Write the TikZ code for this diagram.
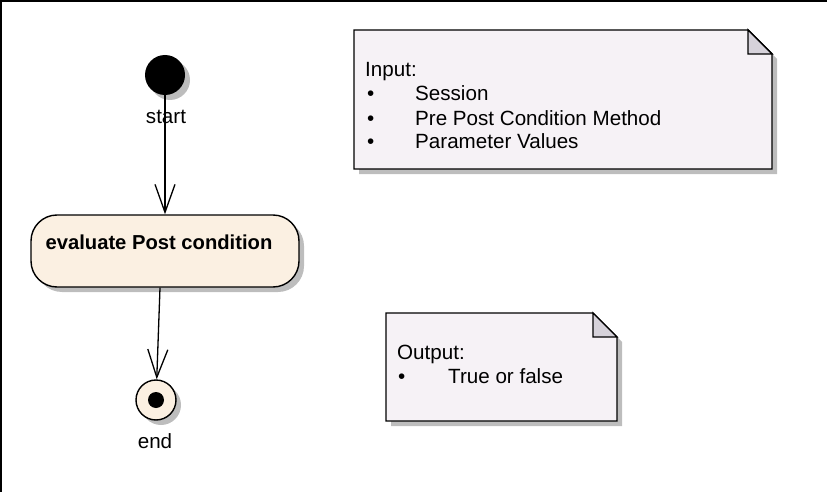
\documentclass[tikz,border=0pt]{standalone}
\usepackage{fontspec}
\setmainfont{Liberation Sans}
\usetikzlibrary{arrows.meta,shadows,positioning}

\definecolor{actfill}{HTML}{FBF0E2}
\definecolor{notefill}{HTML}{F6F2F6}
\definecolor{foldfill}{HTML}{D6D2DA}
\definecolor{shadowgray}{HTML}{BDBDBD}

\tikzset{
  umlshadow/.style={drop shadow={shadow xshift=5pt,shadow yshift=-5pt,fill=shadowgray,opacity=1}},
  startdot/.style={circle,fill=black,minimum size=40pt,inner sep=0pt,umlshadow},
  finaldot/.style={circle,draw=black,line width=1.4pt,fill=actfill,minimum size=40pt,inner sep=0pt,umlshadow},
  innerdot/.style={circle,fill=black,minimum size=16pt,inner sep=0pt},
  actionbox/.style={rectangle,rounded corners=26pt,draw=black,line width=1.4pt,fill=actfill,
    minimum width=268pt,minimum height=72pt,inner sep=0pt,umlshadow},
  flow/.style={line width=1.3pt,-{Straight Barb[length=28pt,width=20pt,line width=1.3pt]}},
  notebody/.style={fill=notefill,draw=black,line width=1.4pt,umlshadow},
  notefold/.style={fill=foldfill,draw=black,line width=1.4pt,line join=miter},
  notetext/.style={anchor=base west,inner sep=0pt,font=\fontsize{20.6}{24}\selectfont},
  plaintext/.style={inner sep=0pt,font=\fontsize{20.6}{24}\selectfont}
}

\begin{document}
\begin{tikzpicture}[x=1pt,y=-1pt]
    \useasboundingbox (0,0) rectangle (827,492);
    \draw[line width=2pt] (1,492) -- (1,1) -- (827,1);

    % activity flow
    \node[startdot] (start) at (165,75) {};
    \node[plaintext] (startlbl) at (166,117) {start};

    \node[actionbox] (evaluate) at (165,251) {};
    \node[plaintext,font=\fontsize{20.2}{24}\selectfont\bfseries] (evallbl) at (159,242) {evaluate Post condition};

    \node[finaldot] (final) at (156,400) {};
    \node[innerdot] (finaldotc) at (final) {};
    \node[plaintext] (finallbl) at (155,441) {end};

    \draw[flow] (start) -- (start |- evaluate.north);
    \draw[flow] ([xshift=-5pt]evaluate.south) -- (final);

    % input note
    \path[notebody] (354,30) -- (748,30) -- (772,54) -- (772,169) -- (354,169) -- cycle;
    \path[notefold] (748,30) -- (748,54) -- (772,54) -- cycle;
    \node[notetext] (inhead) at (365,77) {Input:};
    \foreach \txt [count=\i] in {Session, Pre Post Condition Method, Parameter Values} {
        \node[notetext] (inbullet\i) at (367,77+24*\i) {\textbullet};
        \node[notetext] (initem\i) at (415,77+24*\i) {\txt};
    }

    % output note
    \path[notebody] (386,313) -- (593,313) -- (617,337) -- (617,421) -- (386,421) -- cycle;
    \path[notefold] (593,313) -- (593,337) -- (617,337) -- cycle;
    \node[notetext] (outhead) at (397,359) {Output:};
    \node[notetext] (outbullet) at (398,383) {\textbullet};
    \node[notetext] (outitem) at (448,383) {True or false};
\end{tikzpicture}
\end{document}
